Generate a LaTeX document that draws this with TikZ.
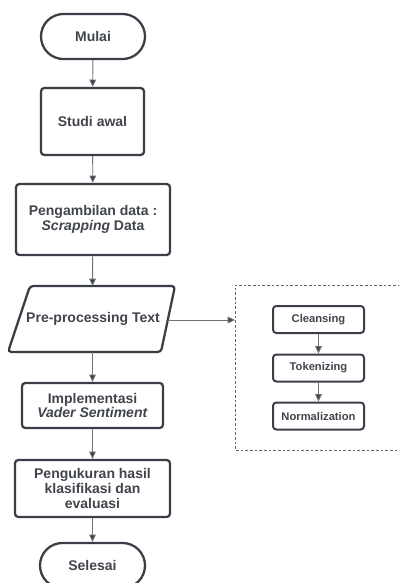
\documentclass[tikz,border=0pt]{standalone}
\usepackage{fontspec}
\setmainfont{Liberation Sans}
\usetikzlibrary{arrows.meta}
\definecolor{bord}{HTML}{3A3F47}
\definecolor{txt}{HTML}{40444C}
\definecolor{arr}{HTML}{6E7075}
\tikzset{
  box/.style={draw=bord, line width=1.7pt, rounded corners=2.5pt, align=center, text=txt, font=\bfseries\fontsize{10.5}{11.2}\selectfont, inner sep=0pt},
  term/.style={box, rounded corners=16.8pt},
  small/.style={box, line width=1.5pt, minimum width=68.25pt, minimum height=20.25pt, font=\bfseries\fontsize{8.4}{9.5}\selectfont},
  flow/.style={draw=arr, line width=0.7pt, -{Triangle[length=5.5pt,width=5pt,fill=bord]}},
}
\begin{document}
\begin{tikzpicture}[x=0.75pt,y=-0.75pt]
\useasboundingbox (0,0) rectangle (399,583);
\clip (0,0) rectangle (399,583);
\node[term, minimum width=78pt, minimum height=33.75pt] (mulai) at (93,36.5) {Mulai};
\node[box, minimum width=77.25pt, minimum height=50.25pt] (studi) at (92.5,121.5) {Studi awal};
\node[box, minimum width=115.5pt, minimum height=53.25pt] (ambil) at (93,219.5) {Pengambilan data :\\\textit{Scrapping} Data};
\draw[draw=bord, line width=1.7pt, rounded corners=2.5pt] (30,286) -- (175,286) -- (161,352) -- (8,352) -- cycle;
\node[text=txt, font=\bfseries\fontsize{10.5}{12}\selectfont, minimum width=100pt, minimum height=40pt] (pre) at (93,318.5) {Pre-processing Text};
\node[box, minimum width=105.75pt, minimum height=33.75pt] (impl) at (92.5,405.5) {Implementasi\\\textit{Vader Sentiment}};
\node[box, minimum width=116.25pt, minimum height=42.75pt] (ukur) at (92.5,488.5) {Pengukuran hasil\\klasifikasi dan\\evaluasi};
\node[term, minimum width=78.75pt, minimum height=33.75pt] (selesai) at (92.5,565.5) {Selesai};
\draw[draw=bord!80, line width=0.5pt, dash pattern=on 2pt off 1.5pt] (405,285) -- (235,285) -- (235,450) -- (405,450);
\coordinate (din) at (235,320);
\coordinate (pout) at (168,320);
\node[small] (clean) at (318.5,319.5) {Cleansing};
\node[small] (token) at (318.5,368) {Tokenizing};
\node[small] (norm) at (318.5,416) {Normalization};
\draw[flow] (mulai) -- (studi);
\draw[flow] (studi) -- (ambil);
\draw[flow] (ambil) -- (92.5,286);
\draw[flow] (92.5,352) -- (impl);
\draw[flow] (impl) -- (ukur);
\draw[flow] (ukur) -- (selesai);
\draw[flow] (pout) -- (din);
\draw[flow] (clean) -- (token);
\draw[flow] (token) -- (norm);
\end{tikzpicture}
\end{document}
